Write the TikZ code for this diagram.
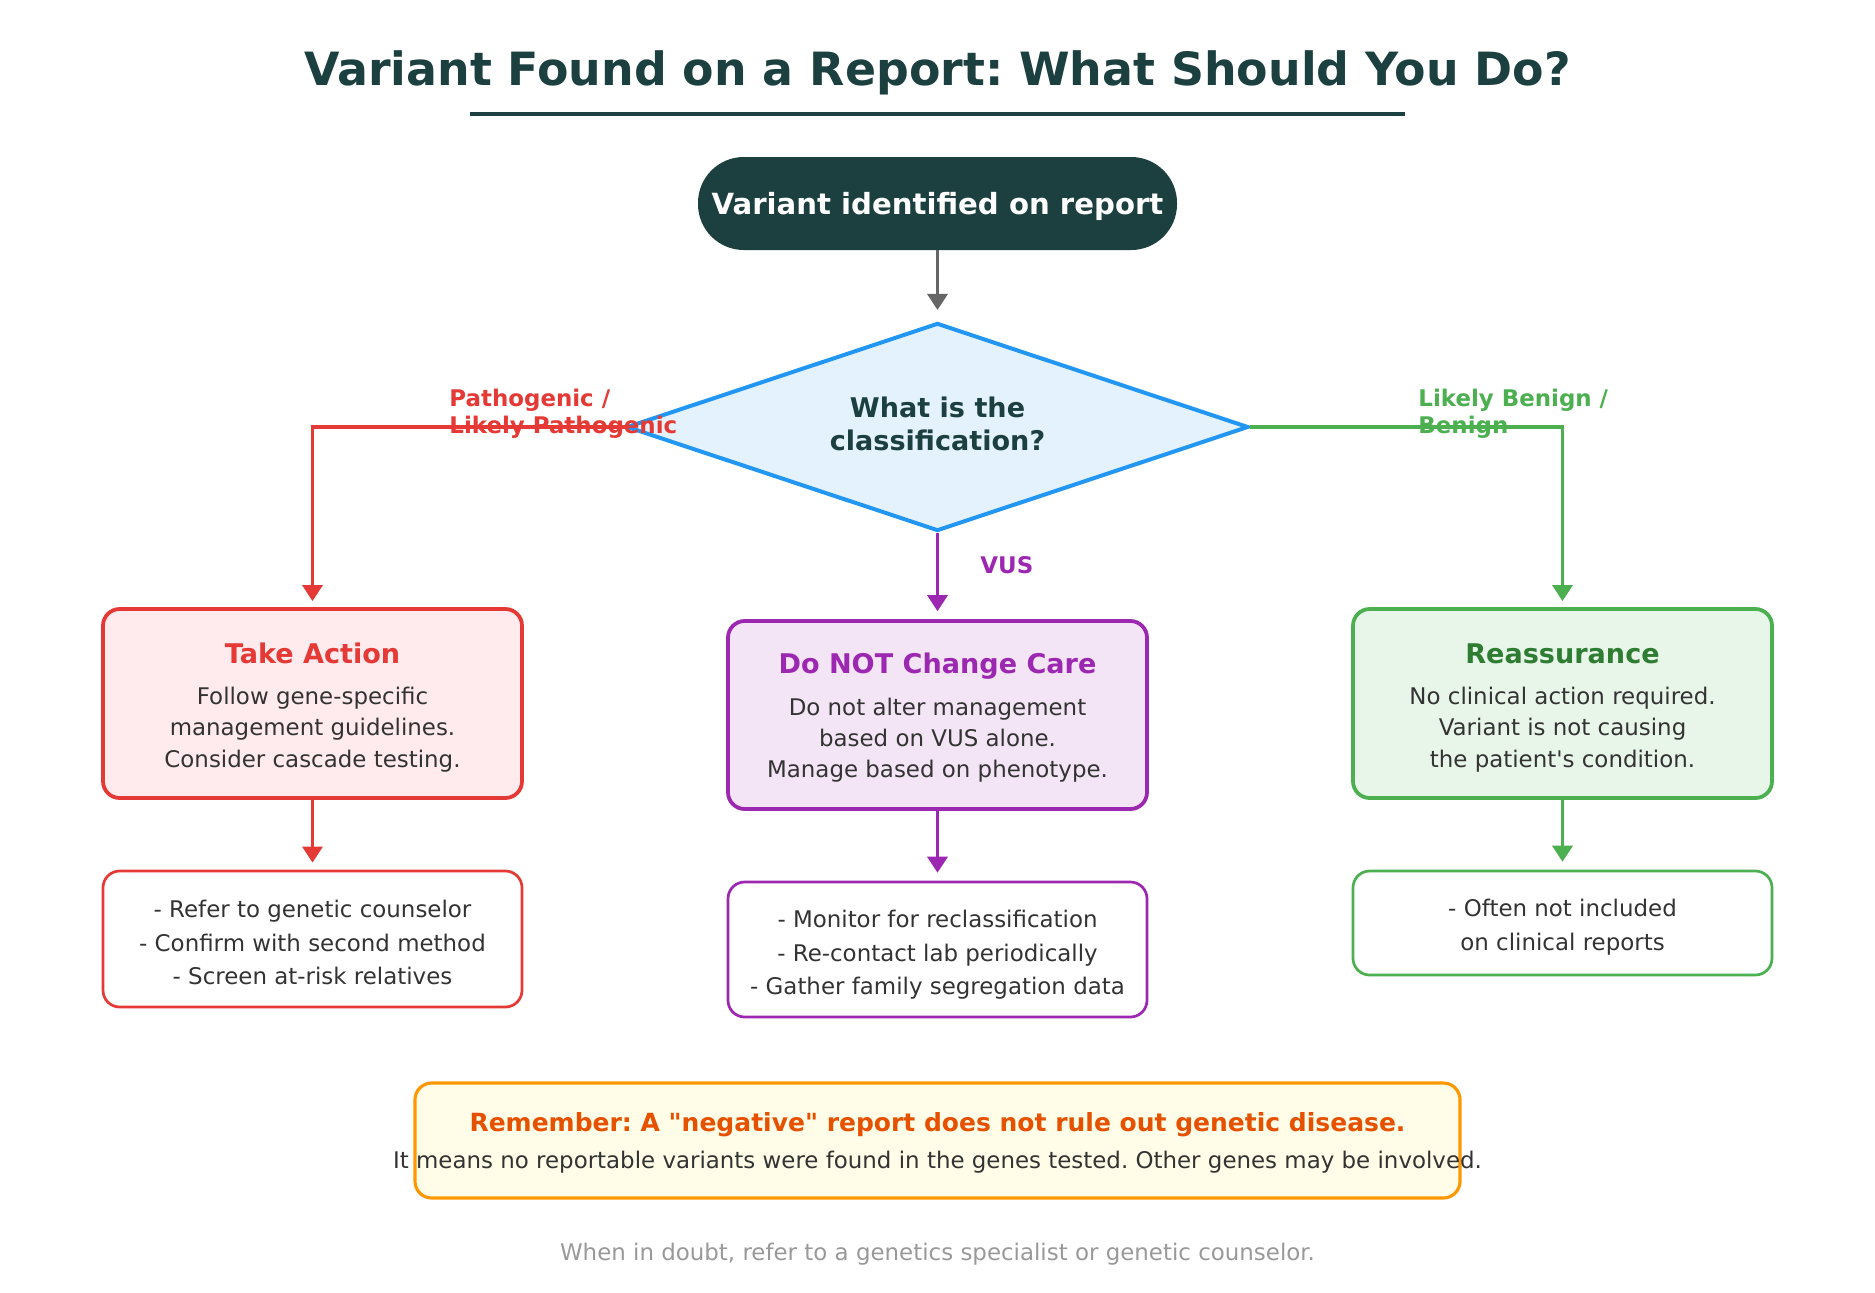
\documentclass[tikz,border=0pt]{standalone}
\usepackage{fontspec}
\setmainfont{DejaVu Sans}[Ligatures=TeXOff]
\usetikzlibrary{shapes.geometric,arrows.meta}
\definecolor{dark}{HTML}{1C3F3F}
\definecolor{txt}{HTML}{333333}
\definecolor{arrgray}{HTML}{666666}
\definecolor{dblue}{HTML}{2196F3}
\definecolor{dbluefill}{HTML}{E3F2FD}
\definecolor{cred}{HTML}{E53935}
\definecolor{credfill}{HTML}{FFEBEE}
\definecolor{cpurp}{HTML}{9C27B0}
\definecolor{cpurpfill}{HTML}{F3E5F5}
\definecolor{cgreen}{HTML}{4CAF50}
\definecolor{cgreenfill}{HTML}{E8F5E9}
\definecolor{cgreendark}{HTML}{2E7D32}
\definecolor{corange}{HTML}{FF9800}
\definecolor{corangefill}{HTML}{FFFDE7}
\definecolor{corangedark}{HTML}{E65100}
\definecolor{footgray}{HTML}{999999}
\newcommand\pxu{0.48pt}
\frenchspacing
\begin{document}
\begin{tikzpicture}[x=0.48pt,y=-0.48pt,
  mainbox/.style={draw, rounded corners=8pt, line width=1.8pt, minimum width=419*\pxu, inner sep=0pt},
  subbox/.style={draw, fill=white, rounded corners=8pt, line width=1.3pt, minimum width=419*\pxu, inner sep=0pt},
  conn/.style={line width=1.7pt, -{Triangle[width=9.6pt,length=7.7pt]}},
  hdr/.style={anchor=base, inner sep=0pt, font=\fontsize{13}{16}\selectfont\bfseries},
  bodytxt/.style={anchor=base, inner sep=0pt, text=txt, font=\fontsize{11}{13}\selectfont},
  lbl/.style={anchor=base west, inner sep=0pt, font=\fontsize{11}{13}\selectfont\bfseries}
]
\useasboundingbox[fill=white] (0,0) rectangle (1875,1292);

% title
\node[anchor=base, inner sep=0pt, text=dark, font=\fontsize{22}{27}\selectfont\bfseries] (title) at (937.5,85) {Variant Found on a Report: What Should You Do?};
\coordinate (ulA) at (470,114);
\coordinate (ulB) at (1405,114);
\draw[dark, line width=1.9pt] (ulA) -- (ulB);

% start
\node[fill=dark, rounded corners=22pt, minimum width=479*\pxu, minimum height=93*\pxu, inner sep=0pt] (start) at (937.5,203.5) {};
\node[hdr, text=white, font=\fontsize{14}{17}\selectfont\bfseries] (startT) at (937.5,214) {Variant identified on report};

% decision
\node[diamond, aspect=3, draw=dblue, fill=dbluefill, line width=1.9pt, minimum width=622*\pxu, minimum height=208*\pxu, inner sep=0pt] (dia) at (937.5,427) {};
\node[hdr, text=dark] (diaT1) at (937.5,417) {What is the};
\node[hdr, text=dark] (diaT2) at (937.5,450) {classification?};

\draw[conn, arrgray, shorten >=5.3pt] (start.south) -- (dia.north);

% boxes
\node[mainbox, draw=cred, fill=credfill, minimum height=189*\pxu] (act) at (312.5,703.5) {};
\node[mainbox, draw=cpurp, fill=cpurpfill, minimum height=188*\pxu] (dnc) at (937.5,715) {};
\node[mainbox, draw=cgreen, fill=cgreenfill, minimum height=189*\pxu] (rea) at (1562.5,703.5) {};

\node[hdr, text=cred] (actT) at (312.5,663) {Take Action};
\node[bodytxt] (actL1) at (312.5,704) {Follow gene-specific};
\node[bodytxt] (actL2) at (312.5,735.5) {management guidelines.};
\node[bodytxt] (actL3) at (312.5,767) {Consider cascade testing.};

\node[hdr, text=cpurp] (dncT) at (937.5,673) {Do NOT Change Care};
\node[bodytxt] (dncL1) at (937.5,715) {Do not alter management};
\node[bodytxt] (dncL2) at (937.5,746) {based on VUS alone.};
\node[bodytxt] (dncL3) at (937.5,777) {Manage based on phenotype.};

\node[hdr, text=cgreendark] (reaT) at (1562.5,663) {Reassurance};
\node[bodytxt] (reaL1) at (1562.5,704) {No clinical action required.};
\node[bodytxt] (reaL2) at (1562.5,735.5) {Variant is not causing};
\node[bodytxt] (reaL3) at (1562.5,767) {the patient's condition.};

% sub boxes
\node[subbox, draw=cred, minimum height=136*\pxu] (actS) at (312.5,939) {};
\node[subbox, draw=cpurp, minimum height=135*\pxu] (dncS) at (937.5,949.5) {};
\node[subbox, draw=cgreen, minimum height=104*\pxu] (reaS) at (1562.5,923) {};

\node[bodytxt] (actS1) at (312.5,917) {- Refer to genetic counselor};
\node[bodytxt] (actS2) at (312.5,951) {- Confirm with second method};
\node[bodytxt] (actS3) at (312.5,984) {- Screen at-risk relatives};

\node[bodytxt] (dncS1) at (937.5,927) {- Monitor for reclassification};
\node[bodytxt] (dncS2) at (937.5,961) {- Re-contact lab periodically};
\node[bodytxt] (dncS3) at (937.5,994) {- Gather family segregation data};

\node[bodytxt] (reaS1) at (1562.5,916) {- Often not included};
\node[bodytxt] (reaS2) at (1562.5,950) {on clinical reports};

% connectors
\draw[conn, cred, shorten >=2.9pt] (dia.west) -| (act.north);
\draw[conn, cgreen, shorten >=2.9pt] (dia.east) -| (rea.north);
\draw[conn, cpurp, shorten >=3.8pt] (dia.south) -- (dnc.north);
\draw[conn, cred, shorten >=3.4pt] (act.south) -- (actS.north);
\draw[conn, cpurp, shorten >=3.8pt] (dnc.south) -- (dncS.north);
\draw[conn, cgreen, shorten >=3.8pt] (rea.south) -- (reaS.north);

% branch labels
\node[lbl, text=cred] (lblP1) at (449,406) {Pathogenic /};
\node[lbl, text=cred] (lblP2) at (449,433) {Likely Pathogenic};
\node[lbl, text=cgreen] (lblB1) at (1418,406) {Likely Benign /};
\node[lbl, text=cgreen] (lblB2) at (1418,433) {Benign};
\node[lbl, text=cpurp] (lblV) at (980,573) {VUS};

% note
\node[draw=corange, fill=corangefill, rounded corners=8pt, line width=1.5pt, minimum width=1045*\pxu, minimum height=115*\pxu, inner sep=0pt] (note) at (937.5,1140.5) {};
\node[anchor=base, inner sep=0pt, text=corangedark, font=\fontsize{12}{14}\selectfont\bfseries] (noteT) at (937.5,1131) {Remember: A "negative" report does not rule out genetic disease.};
\node[bodytxt] (noteB) at (937.5,1168) {It means no reportable variants were found in the genes tested. Other genes may be involved.};

% footer
\node[anchor=base, inner sep=0pt, text=footgray, font=\fontsize{11}{13}\selectfont] (foot) at (937.5,1260) {When in doubt, refer to a genetics specialist or genetic counselor.};
\end{tikzpicture}
\end{document}
